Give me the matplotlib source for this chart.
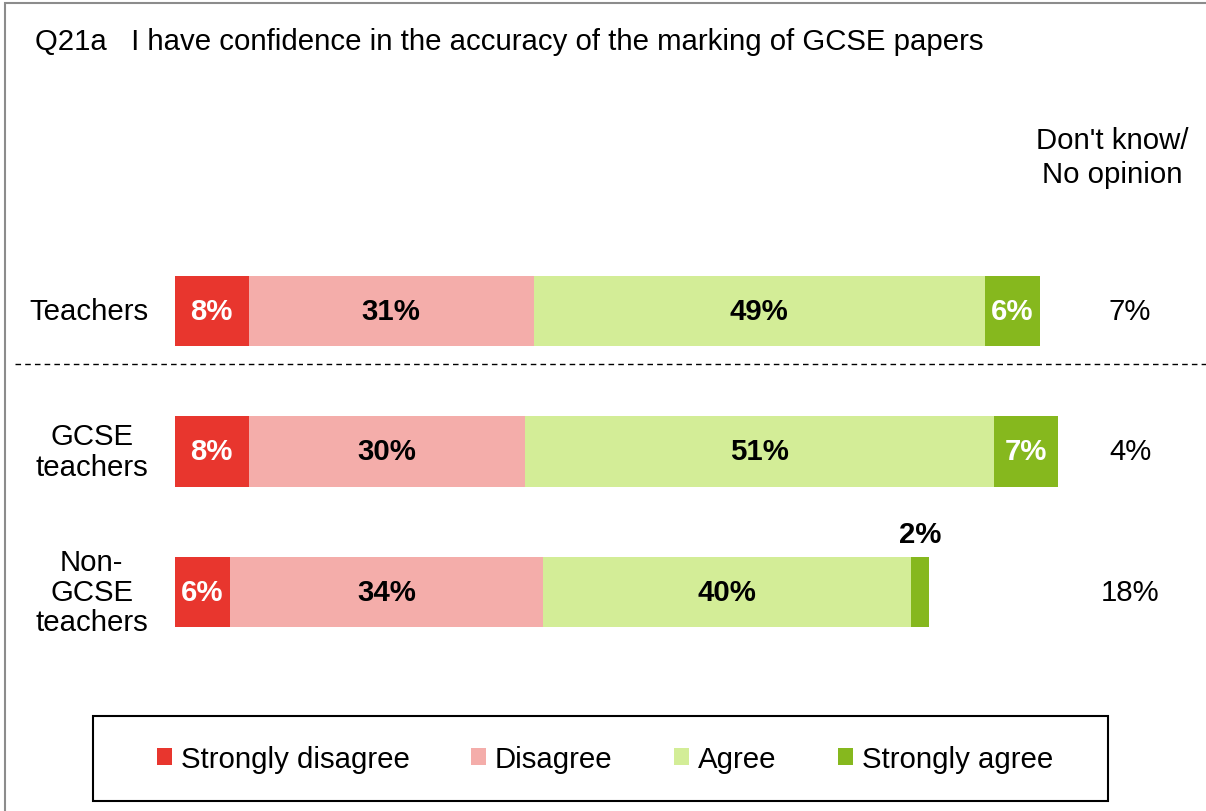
import matplotlib.pyplot as plt
from matplotlib.patches import Patch, Rectangle

plt.rcParams['font.family'] = ['Liberation Sans', 'DejaVu Sans']

# survey responses (%) per group
groups = ['Teachers', 'GCSE\nteachers', 'Non-\nGCSE\nteachers']
strongly_disagree = [8, 8, 6]
disagree = [31, 30, 34]
agree = [49, 51, 40]
strongly_agree = [6, 7, 2]
dont_know = [7, 4, 18]

categories = ['Strongly disagree', 'Disagree', 'Agree', 'Strongly agree']
colors = ['#E8362E', '#F4ADAA', '#D3ED97', '#86B81E']
label_colors = ['white', 'black', 'black', 'white']

FS = 21.2
W, H = 1206, 812
fig = plt.figure(figsize=(W / 100, H / 100), dpi=100)

# axes: x=0 at 175px, 9.2 px per percent; rows 140.5 px apart
x0, ppu = 175, 9.2
top, row = 312 - 70.25, 140.5
ax = fig.add_axes([x0 / W, 1 - (top + 3 * row) / H, 100 * ppu / W, 3 * row / H])
ax.set_xlim(0, 100)
ax.set_ylim(2.5, -0.5)
ax.axis('off')

series = [strongly_disagree, disagree, agree, strongly_agree]
ypos = list(range(len(groups)))
left = [0] * len(groups)
for vals, col, lc in zip(series, colors, label_colors):
    ax.barh(ypos, vals, left=left, height=0.5, color=col, edgecolor='none')
    for i, v in enumerate(vals):
        cx = left[i] + v / 2
        if v >= 4:
            ax.text(cx, ypos[i], f'{v}%', ha='center', va='center',
                    fontsize=FS, fontweight='bold', color=lc)
        else:
            ax.text(cx, ypos[i] - 0.41, f'{v}%', ha='center', va='center',
                    fontsize=FS, fontweight='bold', color='black')
    left = [l + v for l, v in zip(left, vals)]

# group labels
for i, g in enumerate(groups):
    ax.text((148 - x0) / ppu, ypos[i], g, ha='right', va='center',
            multialignment='center', fontsize=FS, linespacing=1.1)

# don't know column
dk_x = (1130 - x0) / ppu
for i, v in enumerate(dont_know):
    ax.text(dk_x, ypos[i], f'{v}%', ha='center', va='center', fontsize=FS)
ax.text((1112 - x0) / ppu, (158 - 312) / row, "Don't know/\nNo opinion",
        ha='center', va='center', multialignment='center', fontsize=FS,
        linespacing=1.3)

# separator between all teachers and subgroups
ax.plot([(15 - x0) / ppu, (W - x0) / ppu], [(365 - 312) / row] * 2,
        color='black', lw=1, ls=(0, (4, 3)), clip_on=False)

fig.text(35 / W, 1 - 42 / H,
         'Q21a   I have confidence in the accuracy of the marking of GCSE papers',
         ha='left', va='center', fontsize=FS)

# outer frame
fig.add_artist(Rectangle((5 / W, -0.1), 1.2, 1.1 - 4 / H, transform=fig.transFigure,
                         fill=False, edgecolor='#8c8c8c', lw=1.5))

# legend box
fig.add_artist(Rectangle((93 / W, 1 - 802 / H), (1108 - 93) / W, 85 / H,
                         transform=fig.transFigure, fill=False,
                         edgecolor='black', lw=1.5))
handles = [Patch(facecolor=c, edgecolor='none') for c in colors]
fig.legend(handles, categories, loc='center', bbox_to_anchor=(605 / W, 1 - 760 / H),
           ncol=4, frameon=False, fontsize=FS, handlelength=0.5, handleheight=0.5,
           handletextpad=0.3, columnspacing=2.1)

fig.savefig('out.png', dpi=100)
